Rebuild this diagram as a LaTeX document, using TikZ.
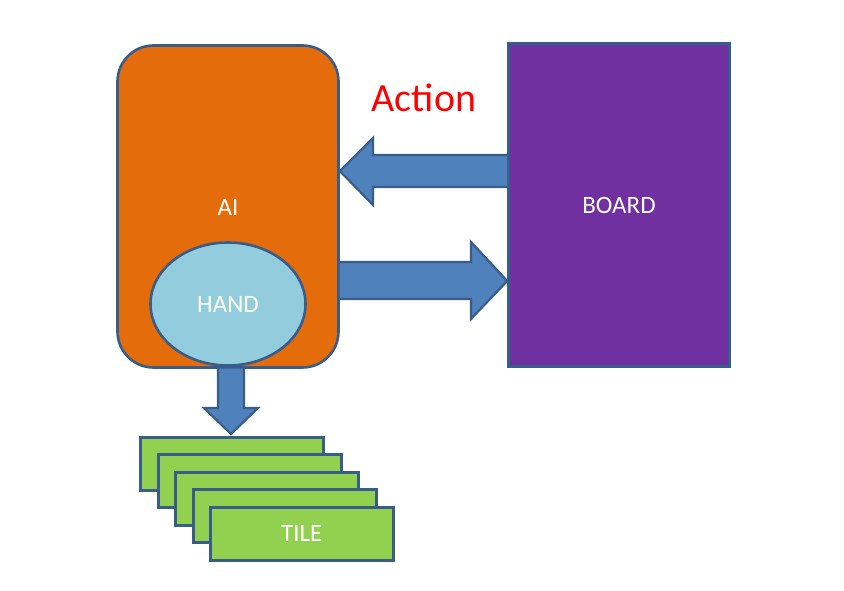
\documentclass[tikz,border=0pt]{standalone}
\usepackage{fontspec}
\setmainfont{Carlito}
\usetikzlibrary{calc,shapes.geometric}
\definecolor{aiorange}{HTML}{E46C0A}
\definecolor{boardpurple}{HTML}{7030A0}
\definecolor{arrowblue}{HTML}{4F81BD}
\definecolor{edgeblue}{HTML}{385D8A}
\definecolor{handblue}{HTML}{93CDDD}
\definecolor{tilegreen}{HTML}{92D050}
\tikzset{
  box/.style={draw=edgeblue, line width=2.6pt, inner sep=0pt, text=white, font=\fontsize{25}{27}\selectfont},
  fatarrow/.style={fill=arrowblue, draw=edgeblue, line width=2.2pt, line join=miter},
  tilebox/.style={box, fill=tilegreen, minimum width=183pt, minimum height=53pt, anchor=north west}
}
\begin{document}
\begin{tikzpicture}[x=1pt,y=-1pt]
\useasboundingbox (0,0) rectangle (844,591);
% AI box
\node[box, fill=aiorange, rounded corners=36pt, minimum width=221pt, minimum height=322pt] (ai) at (228,206.5) {};
\node[text=white, font=\fontsize{25}{27}\selectfont] (ailabel) at (228,207) {AI};
% hand
\node[box, fill=handblue, ellipse, minimum width=155pt, minimum height=123pt] (hand) at (228,304) {HAND};
% board
\node[box, fill=boardpurple, minimum width=221pt, minimum height=323pt] (board) at (619,205) {BOARD};
% action label
\node[text=red, font=\fontsize{40}{42}\selectfont] (action) at (424,98) {Action};
% left arrow (board -> ai)
\draw[fatarrow] (board.west |- 0,155) -- (373,155) -- (373,138) -- (ai.east |- 0,171) -- (373,205) -- (373,187) -- (board.west |- 0,187) ;
% right arrow (ai -> board)
\draw[fatarrow] (ai.east |- 0,262) -- (471,262) -- (471,242) -- (board.west |- 0,281) -- (471,319) -- (471,299) -- (ai.east |- 0,299);
% tiles
\node[tilebox] (t1) at (139,436) {};
\node[tilebox] (t2) at (157,453) {};
\node[tilebox] (t3) at (174,471) {};
\node[tilebox] (t4) at (192,488) {};
\node[tilebox] (t5) at (209,506) {TILE};
% down arrow (ai -> tiles)
\draw[fatarrow] (218,368.5) -- (218,408) -- (204,408) -- (231,434) -- (258,408) -- (244,408) -- (244,368.5);
\end{tikzpicture}
\end{document}
